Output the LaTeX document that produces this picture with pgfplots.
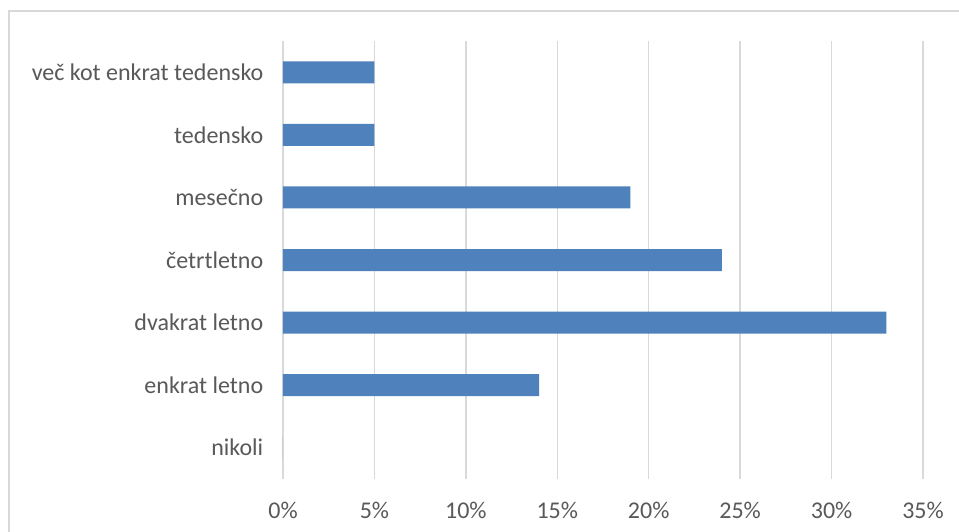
\documentclass[border=0pt]{standalone}
\usepackage{pgfplots}
\pgfplotsset{compat=1.18}
\usepackage{fontspec}
\setmainfont{Carlito}
\definecolor{barblue}{HTML}{4F81BD}
\definecolor{gridgray}{HTML}{D9D9D9}
\definecolor{labgray}{HTML}{595959}
\begin{document}
\begin{tikzpicture}
\clip (0pt,0pt) rectangle (959pt,-531pt);
\useasboundingbox (0pt,0pt) rectangle (959pt,-531pt);
\fill[white] (0pt,0pt) rectangle (959pt,-531pt);
\draw[gridgray, line width=1.5pt] (9pt,-11pt) rectangle (1000pt,-600pt);
\begin{axis}[
  at={(283pt,-479pt)}, anchor=south west,
  scale only axis,
  width=640pt, height=438pt,
  xbar, bar width=22pt,
  xmin=0, xmax=35,
  ymin=-0.5, ymax=6.5,
  xtick={0,5,10,15,20,25,30,35},
  xticklabels={0\%,5\%,10\%,15\%,20\%,25\%,30\%,35\%},
  ytick={0,1,2,3,4,5,6},
  yticklabels={nikoli,enkrat letno,dvakrat letno,četrtletno,mesečno,tedensko,več kot enkrat tedensko},
  xmajorgrids,
  grid style={gridgray, line width=1.5pt},
  axis line style={draw=none},
  tick style={draw=none},
  ticklabel style={font=\fontsize{24}{28}\selectfont, text=labgray},
  xticklabel style={yshift=-20pt},
  yticklabel style={xshift=-12pt},
  /pgf/number format/assume math mode=true,
]
\addplot[fill=barblue, draw=none] coordinates {
  (0,0) (14,1) (33,2) (24,3) (19,4) (5,5) (5,6)
};
\end{axis}
\end{tikzpicture}
\end{document}
